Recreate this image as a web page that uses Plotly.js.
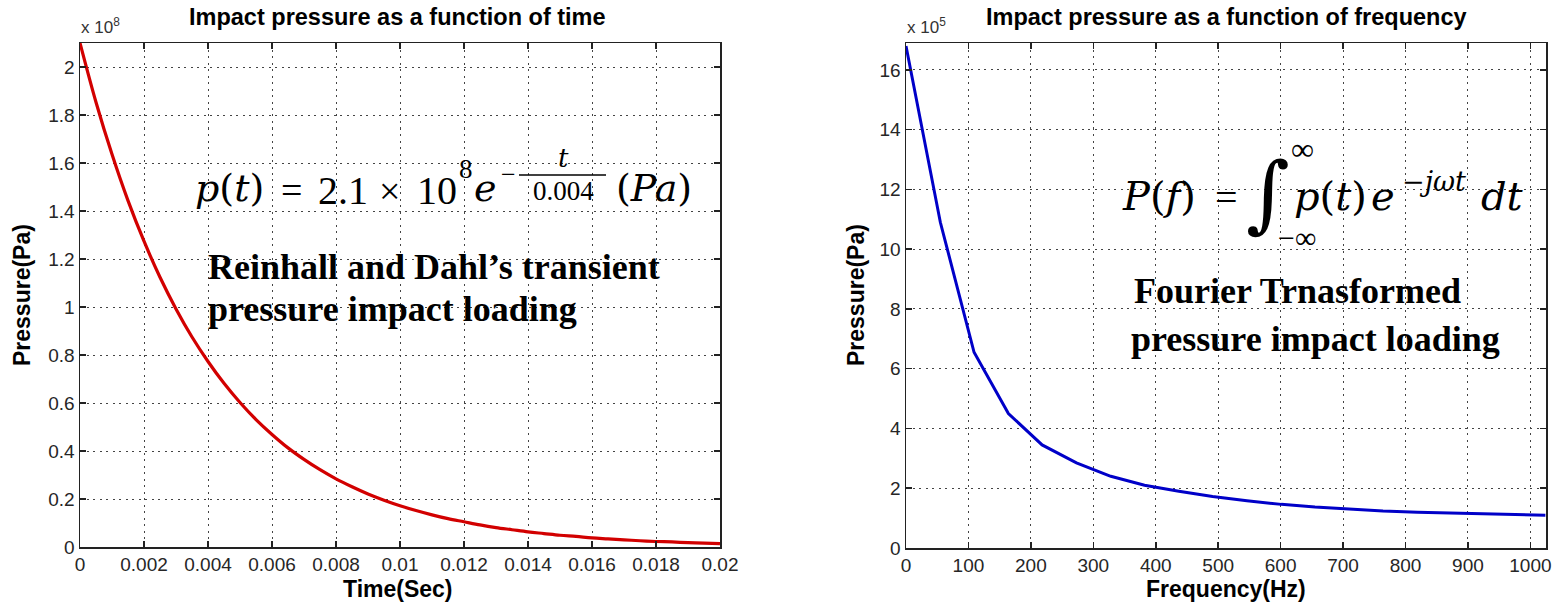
<!DOCTYPE html>
<html>
<head>
<meta charset="utf-8">
<script src="https://cdn.plot.ly/plotly-3.0.1.min.js"></script>
<style>html,body{margin:0;padding:0;background:#fff;}#chart{width:1556px;height:608px;}</style>
</head>
<body>
<div id="chart"></div>
<script>
// ---- data ----
const timeSec = [0, 0.0005, 0.001, 0.0015, 0.002, 0.0025, 0.003, 0.0035, 0.004, 0.0045, 0.005,
  0.0055, 0.006, 0.0065, 0.007, 0.0075, 0.008, 0.0085, 0.009, 0.0095, 0.01,
  0.0105, 0.011, 0.0115, 0.012, 0.0125, 0.013, 0.0135, 0.014, 0.0145, 0.015,
  0.0155, 0.016, 0.0165, 0.017, 0.0175, 0.018, 0.0185, 0.019, 0.0195, 0.02];
// pressure in units of 1e8 Pa
const pressureTime = [2.100, 1.853, 1.636, 1.443, 1.274, 1.124, 0.992, 0.875, 0.773, 0.682, 0.602,
  0.531, 0.469, 0.413, 0.365, 0.322, 0.284, 0.251, 0.221, 0.195, 0.172,
  0.152, 0.134, 0.118, 0.105, 0.092, 0.081, 0.072, 0.063, 0.056, 0.049,
  0.044, 0.038, 0.034, 0.030, 0.026, 0.023, 0.021, 0.018, 0.016, 0.014];
const freqHz = [0, 55, 109, 164, 218, 273, 328, 382, 437, 491, 546, 601, 655, 710, 764, 819, 874, 928, 983, 1024];
// pressure in units of 1e5 Pa
const pressureFreq = [16.8, 10.9, 6.55, 4.5, 3.45, 2.85, 2.4, 2.1, 1.9, 1.72, 1.58, 1.46, 1.37, 1.3, 1.24, 1.2, 1.17, 1.14, 1.11, 1.1];

const timeTicks = [0, 0.002, 0.004, 0.006, 0.008, 0.01, 0.012, 0.014, 0.016, 0.018, 0.02];
const freqTicks = [0, 100, 200, 300, 400, 500, 600, 700, 800, 900, 1000];

// ---- layout helpers ----
const W = 1556, H = 608;
const px = x => x / W;
const py = y => 1 - y / H;

const sans = 'Liberation Sans, Arial, sans-serif';
const serif = 'Liberation Serif, Times New Roman, serif';
const mathf = 'DejaVu Serif, serif';

function axisBase() {
  return {
    showline: true, linecolor: '#222', linewidth: 1.5, mirror: 'ticks',
    ticks: 'inside', ticklen: 6, tickwidth: 1.5, tickcolor: '#222',
    showgrid: true, gridcolor: '#444', gridwidth: 1, griddash: '2px,4.5px',
    zeroline: false, tickfont: {family: sans, size: 19, color: '#262626'},
    fixedrange: true
  };
}

const traces = [
  {x: timeSec, y: pressureTime, type: 'scatter', mode: 'lines',
   line: {color: 'rgb(210,0,0)', width: 3.2, shape: 'spline'}, xaxis: 'x', yaxis: 'y', hoverinfo: 'skip'},
  {x: freqHz, y: pressureFreq, type: 'scatter', mode: 'lines',
   line: {color: 'rgb(0,0,200)', width: 3}, xaxis: 'x2', yaxis: 'y2', hoverinfo: 'skip'}
];

function ann(x, y, text, size, family, opts) {
  return Object.assign({xref: 'paper', yref: 'paper', x: px(x), y: py(y), text: text,
    showarrow: false, xanchor: 'center', yanchor: 'middle',
    font: {family: family || sans, size: size, color: '#000'}}, opts || {});
}

const annotations = [
  ann(398, 17, '<b>Impact pressure as a function of time</b>', 23.5, sans),
  ann(1226, 17, '<b>Impact pressure as a function of frequency</b>', 23.5, sans),
  ann(398, 589, '<b>Time(Sec)</b>', 23, sans),
  ann(1226, 589, '<b>Frequency(Hz)</b>', 23, sans),
  ann(22, 295, '<b>Pressure(Pa)</b>', 23, sans, {textangle: -90}),
  ann(856, 295, '<b>Pressure(Pa)</b>', 23, sans, {textangle: -90}),
  ann(79, 26, 'x 10<sup>8</sup>', 17, sans, {xanchor: 'left', font: {family: sans, size: 17, color: '#333'}}),
  ann(905, 26, 'x 10<sup>5</sup>', 17, sans, {xanchor: 'left', font: {family: sans, size: 17, color: '#333'}}),
  // left equation, piece by piece
  ann(230, 188, '<i>p</i>(<i>t</i>)', 38, mathf),
  ann(291, 190, '=', 38, serif),
  ann(343, 190, '2.1', 40, serif),
  ann(389, 191, '×', 38, serif),
  ann(437, 190, '10', 40, serif),
  ann(466, 169, '8', 27, serif),
  ann(485, 188, '<i>e</i>', 38, mathf),
  ann(508, 175, '−', 26, serif),
  ann(563, 158, '<i>t</i>', 26, mathf),
  ann(563, 191, '0.004', 27, serif),
  ann(654, 188, '(<i>Pa</i>)', 38, mathf),
  // left description
  ann(206, 267, '<b>Reinhall and Dahl’s transient</b>', 36, serif, {xanchor: 'left'}),
  ann(206, 309, '<b>pressure impact loading</b>', 36, serif, {xanchor: 'left'}),
  // right equation
  ann(1159, 196, '<i>P</i>(<i>f</i>)', 40, mathf),
  ann(1226, 197, '=', 40, serif),
  ann(1268, 193, '∫', 84, mathf),
  ann(1302, 149, '∞', 32, serif),
  ann(1297, 237, '−∞', 30, serif),
  ann(1330, 196, '<i>p</i>(<i>t</i>)', 40, mathf),
  ann(1383, 196, '<i>e</i>', 40, mathf),
  ann(1434, 181, '−<i>jωt</i>', 27, mathf),
  ann(1502, 196, '<i>dt</i>', 40, mathf),
  // right description
  ann(1132, 291, '<b>Fourier Trnasformed</b>', 36, serif, {xanchor: 'left'}),
  ann(1129, 339, '<b>pressure impact loading</b>', 36, serif, {xanchor: 'left'})
];

const shapes = [
  {type: 'line', xref: 'paper', yref: 'paper', x0: px(519), x1: px(606), y0: py(175), y1: py(175),
   line: {color: '#000', width: 1.5}}
];

const layout = {
  width: W, height: H,
  margin: {l: 0, r: 0, t: 0, b: 0},
  paper_bgcolor: '#fff', plot_bgcolor: '#fff',
  showlegend: false,
  xaxis: Object.assign(axisBase(), {domain: [px(80), px(720)], range: [0, 0.02],
    tickvals: timeTicks, ticktext: timeTicks.map(String), anchor: 'y'}),
  yaxis: Object.assign(axisBase(), {domain: [py(547), py(43)], range: [0, 2.1], dtick: 0.2, tick0: 0, anchor: 'x'}),
  xaxis2: Object.assign(axisBase(), {domain: [px(906), px(1546)], range: [0, 1025],
    tickvals: freqTicks, ticktext: freqTicks.map(String), anchor: 'y2'}),
  yaxis2: Object.assign(axisBase(), {domain: [py(548), py(43)], range: [0, 16.9], dtick: 2, tick0: 0, anchor: 'x2'}),
  annotations: annotations,
  shapes: shapes
};

Plotly.newPlot('chart', traces, layout, {displayModeBar: false, staticPlot: true});
</script>
</body>
</html>
